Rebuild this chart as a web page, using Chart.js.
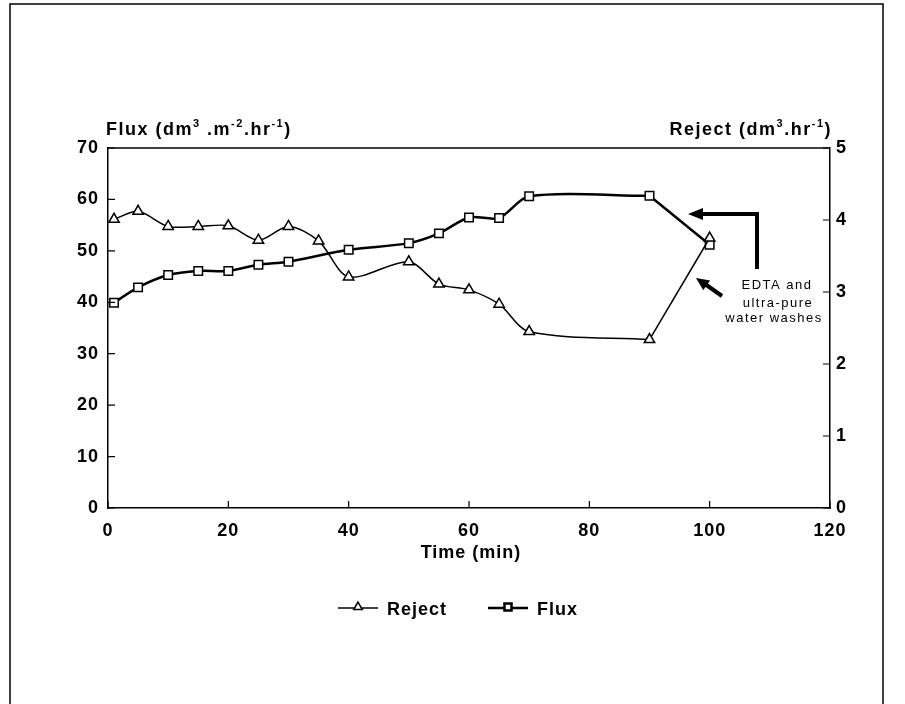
<!DOCTYPE html>
<html>
<head>
<meta charset="utf-8">
<script src="https://cdn.jsdelivr.net/npm/chart.js@4/dist/chart.umd.min.js"></script>
<style>
html, body { margin: 0; padding: 0; background: #fff; }
#wrap { width: 905px; height: 704px; }
</style>
</head>
<body>
<div id="wrap"><canvas id="chart" width="905" height="704"></canvas></div>
<script>
// values
var timeMin = [1, 5, 10, 15, 20, 25, 30, 35, 40, 50, 55, 60, 65, 70, 90, 100];
var fluxValues = [39.9, 42.9, 45.3, 46.1, 46.1, 47.3, 47.9, null, 50.2, 51.5, 53.4, 56.5, 56.4, 60.6, 60.7, 51.2];
var rejectValues = [4.01, 4.12, 3.91, 3.91, 3.92, 3.72, 3.91, 3.71, 3.21, 3.42, 3.11, 3.03, 2.83, 2.45, 2.34, 3.75];
var xTicks = [0, 20, 40, 60, 80, 100, 120];
var fluxTicks = [0, 10, 20, 30, 40, 50, 60, 70];
var rejectTicks = [0, 1, 2, 3, 4, 5];
var noteLines = ["EDTA and", "ultra-pure", "water washes"];

var FONT = '"Liberation Sans", Arial, sans-serif';
var washStart = timeMin.length - 2;   // the last segment (90 -> 100) is drawn straight

function toPoints(values, from, to) {
    var pts = [];
    for (var i = from; i <= to; i++) {
        pts.push({ x: timeMin[i], y: values[i] });
    }
    return pts;
}

function drawRich(ctx, parts, x, y, align) {
    // parts: [text, isSuperscript]
    var total = 0;
    parts.forEach(function (p) {
        ctx.font = p[1] ? "bold 11px " + FONT : "bold 18px " + FONT;
        total += ctx.measureText(p[0]).width;
    });
    var cx = align === "right" ? x - total : x;
    ctx.textAlign = "left";
    ctx.textBaseline = "alphabetic";
    parts.forEach(function (p) {
        ctx.font = p[1] ? "bold 11px " + FONT : "bold 18px " + FONT;
        ctx.fillText(p[0], cx, p[1] ? y - 8 : y);
        cx += ctx.measureText(p[0]).width;
    });
}

function arrowHead(ctx, tipX, tipY, fromX, fromY, len, half) {
    var a = Math.atan2(tipY - fromY, tipX - fromX);
    ctx.beginPath();
    ctx.moveTo(tipX, tipY);
    ctx.lineTo(tipX - len * Math.cos(a) + half * Math.sin(a), tipY - len * Math.sin(a) - half * Math.cos(a));
    ctx.lineTo(tipX - len * Math.cos(a) - half * Math.sin(a), tipY - len * Math.sin(a) + half * Math.cos(a));
    ctx.closePath();
    ctx.fill();
}

var extrasPlugin = {
    id: "extras",
    beforeDraw: function (chart) {
        // the scan uses a wide, loosely tracked face
        chart.ctx.letterSpacing = "1px";
    },
    afterDraw: function (chart) {
        var ctx = chart.ctx;
        var area = chart.chartArea;
        var sx = chart.scales.x, sy = chart.scales.y, sy1 = chart.scales.y1;
        ctx.save();
        ctx.letterSpacing = "1.5px";
        ctx.strokeStyle = "#000";
        ctx.fillStyle = "#000";

        // page frame of the scan
        ctx.lineWidth = 1.5;
        ctx.beginPath();
        ctx.moveTo(10, 704);
        ctx.lineTo(10, 4);
        ctx.lineTo(883, 4);
        ctx.lineTo(883, 704);
        ctx.stroke();

        // top of the plot box
        ctx.beginPath();
        ctx.moveTo(area.left, area.top);
        ctx.lineTo(area.right, area.top);
        ctx.stroke();

        // inward tick marks
        ctx.lineWidth = 1.2;
        ctx.beginPath();
        xTicks.forEach(function (v) {
            var px = sx.getPixelForValue(v);
            ctx.moveTo(px, area.bottom);
            ctx.lineTo(px, area.bottom - 7);
        });
        fluxTicks.forEach(function (v) {
            var py = sy.getPixelForValue(v);
            ctx.moveTo(area.left, py);
            ctx.lineTo(area.left + 7, py);
        });
        rejectTicks.forEach(function (v) {
            var py = sy1.getPixelForValue(v);
            ctx.moveTo(area.right, py);
            ctx.lineTo(area.right - 7, py);
        });
        ctx.stroke();

        // axis titles
        drawRich(ctx, [["Flux (dm", false], ["3", true], [" .m", false], ["-2", true], [".hr", false], ["-1", true], [")", false]], 106, 135, "left");
        drawRich(ctx, [["Reject (dm", false], ["3", true], [".hr", false], ["-1", true], [")", false]], 832, 135, "right");
        ctx.letterSpacing = "1px";
        ctx.font = "bold 18px " + FONT;
        ctx.textAlign = "center";
        ctx.textBaseline = "middle";
        ctx.fillText("Time (min)", 471, 553);

        // legend
        var legendItems = [
            { label: "Reject", ds: chart.data.datasets[0], x: 338 },
            { label: "Flux", ds: chart.data.datasets[2], x: 488 }
        ];
        legendItems.forEach(function (item) {
            ctx.lineWidth = item.ds.borderWidth;
            ctx.beginPath();
            ctx.moveTo(item.x, 608);
            ctx.lineTo(item.x + 40, 608);
            ctx.stroke();
            ctx.fillStyle = "#fff";
            Chart.helpers.drawPoint(ctx, {
                pointStyle: item.ds.pointStyle,
                radius: 5,
                borderWidth: 1.5,
                rotation: 0
            }, item.x + 20, 607);
            ctx.fillStyle = "#000";
            ctx.font = "bold 18px " + FONT;
            ctx.textAlign = "left";
            ctx.textBaseline = "middle";
            ctx.fillText(item.label, item.x + 49, 610);
        });

        // annotation: arrows and note
        ctx.lineWidth = 4;
        ctx.beginPath();
        ctx.moveTo(757, 269);
        ctx.lineTo(757, 214);
        ctx.lineTo(700, 214);
        ctx.stroke();
        arrowHead(ctx, 688, 214, 757, 214, 15, 6);
        ctx.beginPath();
        ctx.moveTo(722, 296);
        ctx.lineTo(705, 284);
        ctx.stroke();
        arrowHead(ctx, 696, 278, 722, 296, 13, 6);

        ctx.letterSpacing = "1.5px";
        ctx.font = "13px " + FONT;
        ctx.textAlign = "center";
        ctx.textBaseline = "middle";
        ctx.fillText(noteLines[0], 777, 285);
        ctx.fillText(noteLines[1], 778, 303);
        ctx.fillText(noteLines[2], 774, 318);
        ctx.restore();
        ctx.letterSpacing = "0px";
    }
};

function makeChart() {
    var last = timeMin.length - 1;
    var pointBase = {
        borderColor: "#000",
        pointBorderColor: "#000",
        pointBackgroundColor: "#fff",
        pointRadius: 6,
        pointBorderWidth: 1.5,
        spanGaps: true
    };
    var datasets = [
        Object.assign({}, pointBase, {
            label: "Reject",
            data: toPoints(rejectValues, 0, washStart),
            yAxisID: "y1",
            borderWidth: 1.5,
            tension: 0.3,
            pointStyle: "triangle"
        }),
        Object.assign({}, pointBase, {
            label: "Reject wash",
            data: toPoints(rejectValues, washStart, last),
            yAxisID: "y1",
            borderWidth: 1.5,
            tension: 0,
            pointStyle: "triangle",
            pointRadius: function (c) { return c.dataIndex === 0 ? 0 : 6; }
        }),
        Object.assign({}, pointBase, {
            label: "Flux",
            data: toPoints(fluxValues, 0, washStart),
            yAxisID: "y",
            borderWidth: 2.5,
            tension: 0.3,
            pointStyle: "rect",
            pointRadius: 6
        }),
        Object.assign({}, pointBase, {
            label: "Flux wash",
            data: toPoints(fluxValues, washStart, last),
            yAxisID: "y",
            borderWidth: 2.5,
            tension: 0,
            pointStyle: "rect",
            pointRadius: function (c) { return c.dataIndex === 0 ? 0 : 6; }
        })
    ];

    var tickFont = { family: FONT, size: 18, weight: "bold" };

    new Chart(document.getElementById("chart"), {
        type: "line",
        data: { datasets: datasets },
        options: {
            responsive: false,
            animation: false,
            devicePixelRatio: 1,
            layout: { padding: { top: 148, left: 0, right: 0, bottom: 0 } },
            plugins: {
                legend: { display: false },
                tooltip: { enabled: false }
            },
            scales: {
                x: {
                    type: "linear",
                    min: 0, max: 120,
                    afterFit: function (s) { s.height = 196; },
                    afterBuildTicks: function (s) { s.ticks = xTicks.map(function (v) { return { value: v }; }); },
                    grid: { display: false, drawTicks: false },
                    border: { display: true, color: "#000", width: 1.5 },
                    ticks: { color: "#000", font: tickFont, padding: 12, maxRotation: 0 }
                },
                y: {
                    type: "linear",
                    position: "left",
                    min: 0, max: 70,
                    afterFit: function (s) { s.width = 108; },
                    afterBuildTicks: function (s) { s.ticks = fluxTicks.map(function (v) { return { value: v }; }); },
                    grid: { display: false, drawTicks: false },
                    border: { display: true, color: "#000", width: 1.5 },
                    ticks: { color: "#000", font: tickFont, padding: 9 }
                },
                y1: {
                    type: "linear",
                    position: "right",
                    min: 0, max: 5,
                    afterFit: function (s) { s.width = 75; },
                    afterBuildTicks: function (s) { s.ticks = rejectTicks.map(function (v) { return { value: v }; }); },
                    grid: { display: false, drawTicks: false },
                    border: { display: true, color: "#000", width: 1.5 },
                    ticks: { color: "#000", font: tickFont, padding: 6 }
                }
            }
        },
        plugins: [extrasPlugin]
    });
}

makeChart();
</script>
</body>
</html>
